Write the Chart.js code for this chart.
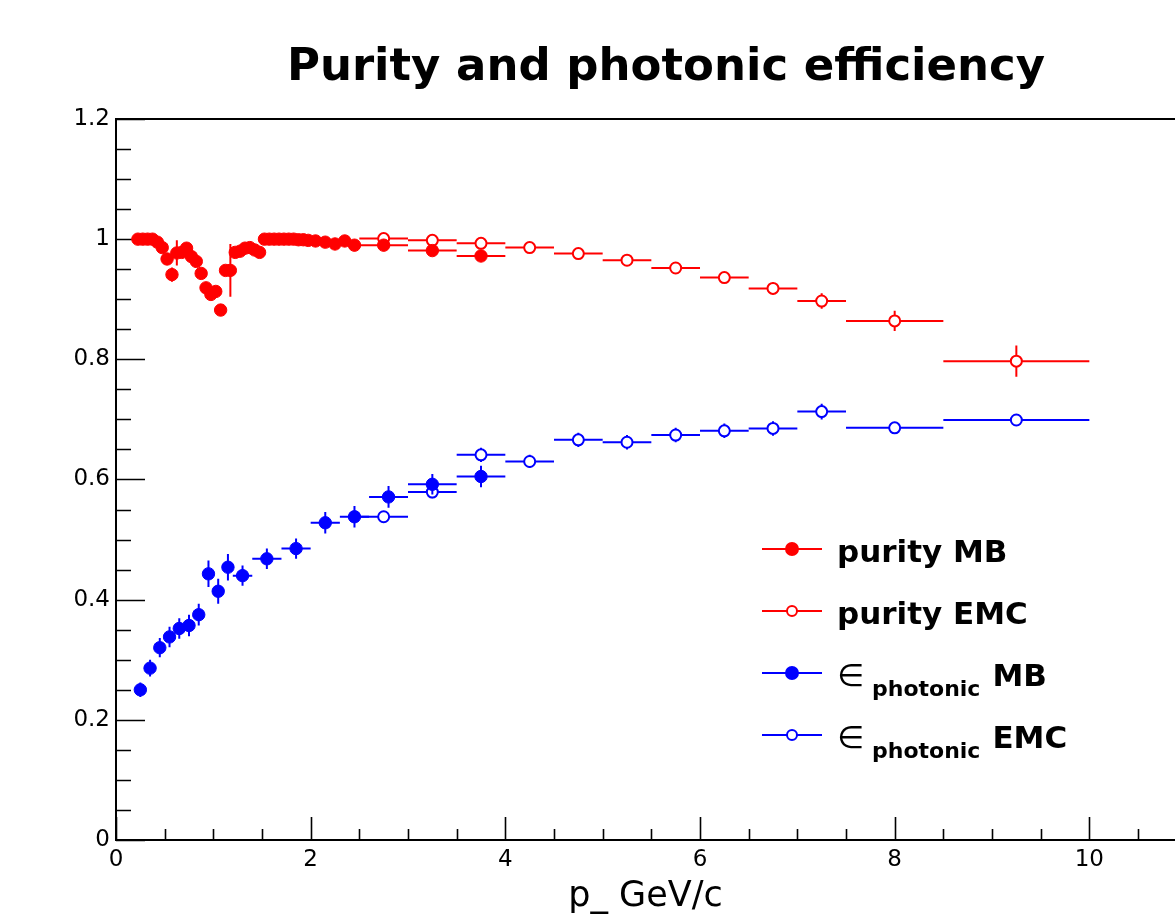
<!DOCTYPE html>
<html><head><meta charset="utf-8">
<script src="https://cdn.jsdelivr.net/npm/chart.js@4"></script>
<style>html,body{margin:0;padding:0;background:#fff;overflow:hidden}canvas{display:block}</style>
</head><body>
<canvas id="c" width="1175" height="914"></canvas>
<script>
// ---------------- data ----------------
const chartTitle = "Purity and photonic efficiency";
const xAxisTitle = "p_ GeV/c";
const xTickLabels = [0, 2, 4, 6, 8, 10];
const yTickLabels = [0, 0.2, 0.4, 0.6, 0.8, 1, 1.2];

const purityMB_x  = [0.225,0.275,0.325,0.375,0.425,0.475,0.525,0.575,0.625,0.675,0.725,0.775,0.825,0.875,0.925,0.975,1.025,1.075,1.125,1.175,1.225,1.275,1.325,1.375,1.425,1.475,1.525,1.575,1.625,1.675,1.725,1.775,1.825,1.875,1.925,1.975,2.05,2.15,2.25,2.35,2.45,2.75,3.25,3.75];
const purityMB_y  = [1.000,1.000,1.000,1.000,0.995,0.986,0.967,0.941,0.977,0.978,0.985,0.971,0.963,0.943,0.919,0.908,0.913,0.882,0.948,0.948,0.978,0.980,0.985,0.986,0.982,0.978,1.000,1.000,1.000,1.000,1.000,1.000,1.000,0.999,0.999,0.998,0.997,0.995,0.992,0.997,0.990,0.990,0.981,0.972];
const purityMB_ex = [0.025,0.025,0.025,0.025,0.025,0.025,0.025,0.025,0.025,0.025,0.025,0.025,0.025,0.025,0.025,0.025,0.025,0.025,0.025,0.025,0.025,0.025,0.025,0.025,0.025,0.025,0.025,0.025,0.025,0.025,0.025,0.025,0.025,0.025,0.025,0.025,0.05,0.05,0.05,0.05,0.05,0.25,0.25,0.25];
const purityMB_ey = [0.003,0.003,0.003,0.003,0.003,0.003,0.003,0.012,0.021,0.004,0.004,0.004,0.004,0.004,0.004,0.004,0.004,0.010,0.006,0.044,0.004,0.004,0.004,0.004,0.004,0.004,0.002,0.002,0.002,0.002,0.002,0.002,0.002,0.002,0.002,0.002,0.003,0.003,0.003,0.003,0.003,0.004,0.005,0.006];

const purityEMC_x  = [2.75,3.25,3.75,4.25,4.75,5.25,5.75,6.25,6.75,7.25,8.0,9.25];
const purityEMC_y  = [1.001,0.998,0.993,0.986,0.976,0.965,0.952,0.936,0.918,0.897,0.864,0.797];
const purityEMC_ex = [0.25,0.25,0.25,0.25,0.25,0.25,0.25,0.25,0.25,0.25,0.5,0.75];
const purityEMC_ey = [0.004,0.004,0.005,0.005,0.006,0.007,0.008,0.009,0.010,0.013,0.017,0.026];

const effMB_x  = [0.25,0.35,0.45,0.55,0.65,0.75,0.85,0.95,1.05,1.15,1.3,1.55,1.85,2.15,2.45,2.8,3.25,3.75];
const effMB_y  = [0.250,0.286,0.320,0.338,0.352,0.357,0.375,0.443,0.414,0.454,0.440,0.468,0.485,0.528,0.538,0.571,0.592,0.605];
const effMB_ex = [0.05,0.05,0.05,0.05,0.05,0.05,0.05,0.05,0.05,0.05,0.1,0.15,0.15,0.15,0.15,0.2,0.25,0.25];
const effMB_ey = [0.012,0.014,0.016,0.017,0.017,0.018,0.018,0.022,0.021,0.022,0.017,0.017,0.017,0.018,0.018,0.018,0.017,0.018];

const effEMC_x  = [2.75,3.25,3.75,4.25,4.75,5.25,5.75,6.25,6.75,7.25,8.0,9.25];
const effEMC_y  = [0.538,0.579,0.641,0.630,0.666,0.662,0.674,0.681,0.685,0.713,0.686,0.699];
const effEMC_ex = [0.25,0.25,0.25,0.25,0.25,0.25,0.25,0.25,0.25,0.25,0.5,0.75];
const effEMC_ey = [0.008,0.010,0.012,0.011,0.012,0.012,0.012,0.012,0.012,0.013,0.009,0.008];

// legend labels: [symbol, subscript, main text]
const legendLabels = [
  ["", "", "purity MB"],
  ["", "", "purity EMC"],
  ["\u2208", "photonic", "MB"],
  ["\u2208", "photonic", "EMC"]
];

const RED = "#ff0000", BLUE = "#0000ff";

function pts(xs, ys) { return xs.map((v, i) => ({x: v, y: ys[i]})); }

function mkDs(label, xs, ys, ex, ey, color, filled, order) {
  return {
    label, data: pts(xs, ys), errX: ex, errY: ey, order,
    showLine: false,
    pointStyle: "circle",
    pointRadius: filled ? 6.2 : 5.5,
    pointHoverRadius: filled ? 6.2 : 5.5,
    borderWidth: filled ? 1 : 2,
    borderColor: color,
    backgroundColor: filled ? color : "#ffffff",
    filled
  };
}

const datasets = [
  mkDs(legendLabels[0][2], purityMB_x, purityMB_y, purityMB_ex, purityMB_ey, RED, true, 0),
  mkDs(legendLabels[1][2], purityEMC_x, purityEMC_y, purityEMC_ex, purityEMC_ey, RED, false, 1),
  mkDs("photonic MB", effMB_x, effMB_y, effMB_ex, effMB_ey, BLUE, true, 0),
  mkDs("photonic EMC", effEMC_x, effEMC_y, effEMC_ex, effEMC_ey, BLUE, false, 1)
];

// ---------------- plugins ----------------
const errorBars = {
  id: "errorBars",
  beforeDatasetDraw(chart, args) {
    const ds = chart.data.datasets[args.index];
    const xs = chart.scales.x, ys = chart.scales.y, ctx = chart.ctx;
    ctx.save();
    ctx.strokeStyle = ds.borderColor;
    ctx.lineWidth = 2;
    ds.data.forEach((p, i) => {
      const cx = xs.getPixelForValue(p.x), cy = ys.getPixelForValue(p.y);
      const x0 = xs.getPixelForValue(p.x - ds.errX[i]), x1 = xs.getPixelForValue(p.x + ds.errX[i]);
      const y0 = ys.getPixelForValue(p.y - ds.errY[i]), y1 = ys.getPixelForValue(p.y + ds.errY[i]);
      ctx.beginPath();
      ctx.moveTo(x0, cy); ctx.lineTo(x1, cy);
      ctx.moveTo(cx, y0); ctx.lineTo(cx, y1);
      ctx.stroke();
    });
    ctx.restore();
  }
};

const frameTicks = {
  id: "frameTicks",
  beforeDatasetsDraw(chart) {
    const {ctx, chartArea: a} = chart;
    const xs = chart.scales.x, ys = chart.scales.y;
    ctx.save();
    ctx.strokeStyle = "#000";
    ctx.lineWidth = 1.6;
    ctx.beginPath();
    for (let k = 0; k <= 21; k++) {
      const v = k * 0.5;
      const px = Math.round(xs.getPixelForValue(v)) + 0.5;
      const len = (k % 4 === 0) ? 23 : 11;
      ctx.moveTo(px, a.bottom); ctx.lineTo(px, a.bottom - len);
    }
    for (let k = 0; k <= 24; k++) {
      const v = k * 0.05;
      const py = Math.round(ys.getPixelForValue(v)) + 0.5;
      const len = (k % 4 === 0) ? 29 : 15;
      ctx.moveTo(a.left, py); ctx.lineTo(a.left + len, py);
    }
    ctx.stroke();
    ctx.lineWidth = 2;
    ctx.beginPath();
    ctx.moveTo(a.left, a.top); ctx.lineTo(a.right, a.top);
    ctx.stroke();
    ctx.restore();
  }
};

const titleAndLegend = {
  id: "titleAndLegend",
  afterDraw(chart) {
    const ctx = chart.ctx;
    ctx.save();
    // title
    ctx.fillStyle = "#000";
    ctx.font = 'bold 45px "DejaVu Sans"';
    ctx.textAlign = "center";
    ctx.textBaseline = "alphabetic";
    ctx.fillText(chartTitle, 666, 80);
    // legend
    const lx0 = 762, lx1 = 822, mx = 792, ty0 = 549, step = 62, tx = 837;
    chart.data.datasets.forEach((ds, i) => {
      const y = ty0 + step * i;
      ctx.strokeStyle = ds.borderColor;
      ctx.lineWidth = 2;
      ctx.beginPath(); ctx.moveTo(lx0, y); ctx.lineTo(lx1, y); ctx.stroke();
      ctx.beginPath(); ctx.arc(mx, y, ds.filled ? 6 : 5, 0, Math.PI * 2);
      ctx.fillStyle = ds.filled ? ds.borderColor : "#fff";
      ctx.fill(); ctx.stroke();
      const [sym, sub, main] = legendLabels[i];
      const base = y + 13;
      ctx.fillStyle = "#000";
      ctx.textAlign = "left";
      let x = tx;
      if (sym) {
        ctx.font = '31px "DejaVu Sans"';
        ctx.fillText(sym, x, base);
        x += ctx.measureText(sym).width + 8;
        ctx.font = 'bold 22px "DejaVu Sans"';
        ctx.fillText(sub, x, base + 10);
        x += ctx.measureText(sub).width + 12;
      }
      ctx.font = 'bold 31px "DejaVu Sans"';
      ctx.fillText(main, x, base);
    });
    ctx.restore();
  }
};

// ---------------- chart ----------------
new Chart(document.getElementById("c"), {
  type: "scatter",
  data: {datasets},
  plugins: [errorBars, frameTicks, titleAndLegend],
  options: {
    responsive: false,
    devicePixelRatio: 1,
    animation: false,
    events: [],
    layout: {autoPadding: false, padding: {top: 119, right: 0, left: 0, bottom: 0}},
    plugins: {legend: {display: false}, title: {display: false}, tooltip: {enabled: false}},
    scales: {
      x: {
        type: "linear", min: 0, max: 10.88,
        afterFit(s) { s.height = 74; s.paddingRight = 0; s.paddingLeft = 0; },
        afterBuildTicks(s) { s.ticks = xTickLabels.map(v => ({value: v})); },
        grid: {display: false, drawTicks: false},
        border: {display: true, color: "#000", width: 2},
        ticks: {
          padding: 6, color: "#000", maxRotation: 0, autoSkip: false,
          font: {family: "DejaVu Sans", size: 23},
          callback: v => String(v)
        },
        title: {
          display: true, text: xAxisTitle, color: "#000",
          font: {family: "DejaVu Sans", size: 35, lineHeight: 0.98},
          padding: {top: 0, bottom: 0}
        }
      },
      y: {
        type: "linear", min: 0, max: 1.2,
        afterFit(s) { s.width = 116; },
        afterBuildTicks(s) { s.ticks = yTickLabels.map(v => ({value: v})); },
        grid: {display: false, drawTicks: false},
        border: {display: true, color: "#000", width: 2},
        ticks: {
          padding: 6, color: "#000", autoSkip: false,
          font: {family: "DejaVu Sans", size: 23},
          callback: v => String(Math.round(v * 10) / 10)
        }
      }
    }
  }
});
</script>
</body></html>
